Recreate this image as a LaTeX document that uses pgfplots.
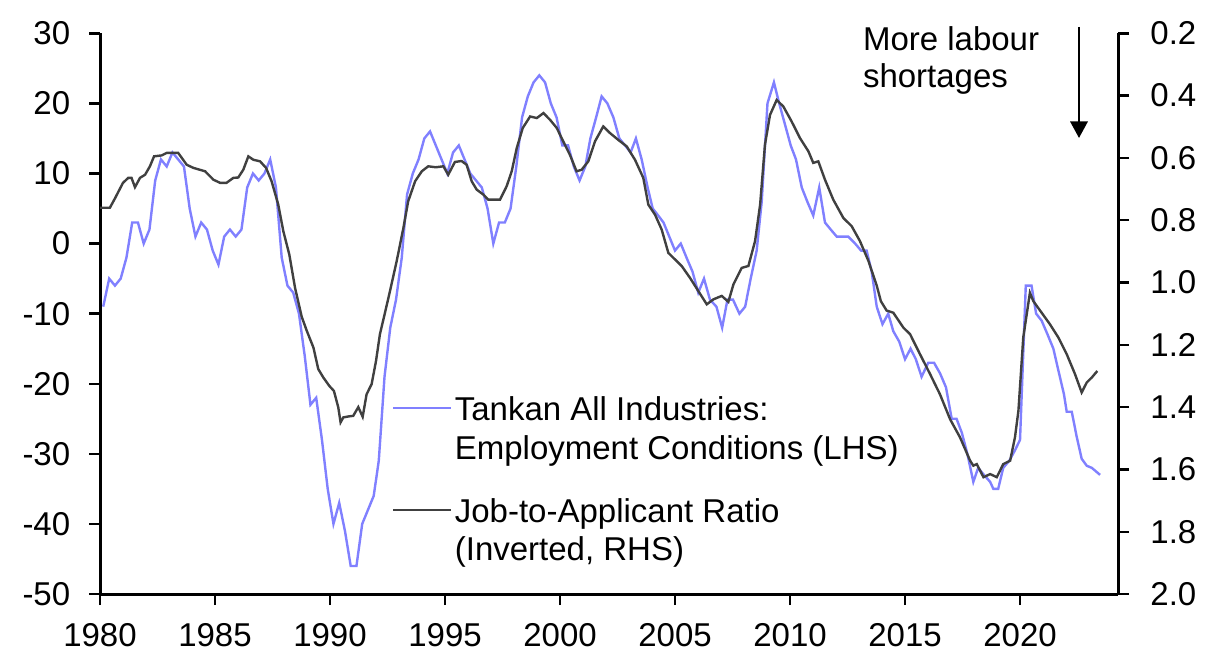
\documentclass[border=0pt]{standalone}
\usepackage{fontspec}
\setmainfont{Liberation Sans}
\usepackage{pgfplots}
\pgfplotsset{compat=1.18}
\usetikzlibrary{arrows.meta}
\definecolor{tankan}{RGB}{128,128,255}
\definecolor{jobratio}{RGB}{64,64,64}
\newcommand{\chartfont}{\fontsize{16.5}{20.5}\selectfont}
\newcommand{\legfont}{\fontsize{16.5}{18.75}\selectfont}

\begin{document}
\begin{tikzpicture}
\path[use as bounding box] (-50pt,-38pt) rectangle (554pt,297pt);
\begin{axis}[
  at={(0pt,0pt)}, anchor=south west,
  scale only axis, width=509pt, height=280.35pt,
  xmin=1980, xmax=2024.26,
  ymin=-50, ymax=30,
  axis y line*=left, axis x line*=bottom,
  xtick={1980,1985,...,2020},
  ytick={-50,-40,...,30},
  tick align=outside, major tick length=5.5pt,
  tick style={line width=1.2pt, black},
  axis line style={line width=1.5pt, black, -},
  every tick label/.append style={font=\chartfont, inner sep=0pt},
  xticklabel style={yshift=-9.15pt},
  yticklabel style={xshift=-9.2pt},
  /pgf/number format/assume math mode=true,
  /pgf/number format/1000 sep={},
  legend style={draw=none, fill=none, inner sep=0pt,
    at={(0.2865,0.3571)}, anchor=north west, font=\legfont,
    row sep=4.75pt, column sep=0pt,
    cells={anchor=base west},
    nodes={inner xsep=1.5pt, inner ysep=0pt}},
  legend image code/.code={\draw[#1] (0pt,6.15pt) -- (28.7pt,6.15pt);},
]
\addplot[tankan, line width=1.2pt] coordinates {
(1980.14,-9) (1980.40,-5) (1980.65,-6) (1980.90,-5) (1981.15,-2) (1981.40,3) (1981.65,3) (1981.90,0)
(1982.15,2) (1982.40,9) (1982.65,12) (1982.90,11) (1983.15,13) (1983.40,12) (1983.65,11) (1983.90,5)
(1984.15,1) (1984.40,3) (1984.65,2) (1984.90,-1) (1985.15,-3) (1985.40,1) (1985.65,2) (1985.90,1)
(1986.15,2) (1986.40,8) (1986.65,10) (1986.90,9) (1987.15,10) (1987.40,12) (1987.65,8) (1987.90,-2)
(1988.15,-6) (1988.40,-7) (1988.65,-10) (1988.90,-16) (1989.15,-23) (1989.40,-22) (1989.65,-28) (1989.90,-35)
(1990.15,-40) (1990.40,-37) (1990.65,-41) (1990.90,-46) (1991.15,-46) (1991.40,-40) (1991.65,-38) (1991.90,-36)
(1992.12,-31) (1992.37,-19) (1992.62,-12) (1992.87,-8) (1993.12,-2) (1993.35,7) (1993.60,10) (1993.85,12)
(1994.10,15) (1994.35,16) (1994.60,14) (1994.85,12) (1995.10,10) (1995.35,13) (1995.60,14) (1995.85,12)
(1996.10,10) (1996.35,9) (1996.60,8) (1996.85,5) (1997.10,0) (1997.35,3) (1997.60,3) (1997.85,5)
(1998.10,11) (1998.35,18) (1998.60,21) (1998.85,23) (1999.10,24) (1999.35,23) (1999.60,20) (1999.85,18)
(2000.10,14) (2000.35,14) (2000.60,11) (2000.85,9) (2001.10,11) (2001.32,15) (2001.57,18) (2001.81,21)
(2002.06,20) (2002.32,18) (2002.58,15) (2002.83,14) (2003.07,13) (2003.30,15) (2003.55,12) (2003.81,8)
(2004.03,5) (2004.27,4) (2004.50,3) (2004.75,1) (2005.00,-1) (2005.25,0) (2005.50,-2) (2005.76,-4)
(2006.01,-7) (2006.26,-5) (2006.52,-8) (2006.80,-9) (2007.05,-12) (2007.28,-8) (2007.52,-8) (2007.80,-10)
(2008.05,-9) (2008.29,-5) (2008.55,-1) (2008.77,6) (2009.02,20) (2009.30,23) (2009.53,20) (2009.78,17)
(2010.03,14) (2010.26,12) (2010.51,8) (2010.75,6) (2011.01,4) (2011.27,8) (2011.52,3) (2011.77,2)
(2012.03,1) (2012.29,1) (2012.53,1) (2012.83,0) (2013.09,-1) (2013.33,-1) (2013.55,-4) (2013.77,-9)
(2014.02,-11.5) (2014.27,-10) (2014.49,-12.5) (2014.75,-14) (2015.00,-16.5) (2015.24,-15) (2015.47,-16.5) (2015.72,-19)
(2016.01,-17) (2016.26,-17) (2016.52,-18.5) (2016.78,-20.5) (2017.03,-25) (2017.24,-25) (2017.47,-27) (2017.71,-30)
(2017.97,-34) (2018.18,-32) (2018.43,-33) (2018.70,-34) (2018.84,-35) (2019.05,-35) (2019.27,-32) (2019.53,-31)
(2019.78,-29.5) (2020.00,-28) (2020.25,-6) (2020.50,-6) (2020.70,-10) (2020.94,-11) (2021.20,-13) (2021.45,-15)
(2021.66,-18) (2021.91,-21.5) (2022.03,-24) (2022.25,-24) (2022.46,-27.5) (2022.68,-30.7) (2022.90,-31.7) (2023.12,-32)
(2023.48,-33)
};
\addlegendentry{\strut Tankan All Industries:}
\addlegendimage{empty legend}
\addlegendentry{\strut Employment Conditions (LHS)}
\addlegendimage{jobratio, line width=1.2pt}
\addlegendentry{\strut\rule{0pt}{25.2pt}Job-to-Applicant Ratio}
\addlegendimage{empty legend}
\addlegendentry{\strut (Inverted, RHS)}
\end{axis}
\begin{axis}[
  at={(0pt,0pt)}, anchor=south west,
  scale only axis, width=509pt, height=280.35pt,
  xmin=1980, xmax=2024.26,
  ymin=0.2, ymax=2.0, y dir=reverse,
  axis y line*=right, axis x line=none,
  ytick={0.2,0.4,0.6,0.8,1.0,1.2,1.4,1.6,1.8,2.0},
  tick align=outside, major tick length=5.5pt,
  tick style={line width=1.2pt, black},
  axis line style={line width=1.5pt, black, -},
  every tick label/.append style={font=\chartfont, inner sep=0pt},
  yticklabel={\hspace*{10.5pt}\pgfmathprintnumber[fixed,fixed zerofill,precision=1,assume math mode=true]{\tick}},
]
\addplot[jobratio, line width=1.2pt] coordinates {
(1980.0,0.76) (1980.43,0.76) (1980.65,0.73) (1981.0,0.68) (1981.23,0.664) (1981.37,0.664) (1981.52,0.694) (1981.74,0.664)
(1981.96,0.654) (1982.17,0.627) (1982.35,0.595) (1982.68,0.592) (1982.9,0.584) (1983.4,0.584) (1983.77,0.622) (1984.06,0.632)
(1984.57,0.643) (1984.93,0.67) (1985.22,0.68) (1985.5,0.68) (1985.8,0.664) (1986.01,0.663) (1986.23,0.638) (1986.45,0.595)
(1986.67,0.606) (1986.96,0.611) (1987.22,0.632) (1987.46,0.675) (1987.75,0.75) (1987.97,0.835) (1988.23,0.91) (1988.48,1.017)
(1988.77,1.11) (1988.99,1.155) (1989.28,1.209) (1989.49,1.278) (1989.71,1.305) (1989.97,1.332) (1990.17,1.348) (1990.36,1.401)
(1990.46,1.449) (1990.58,1.433) (1990.8,1.43) (1991.01,1.428) (1991.23,1.40) (1991.42,1.431) (1991.59,1.359) (1991.81,1.326)
(1992.0,1.252) (1992.17,1.166) (1992.39,1.097) (1992.6,1.03) (1992.9,0.931) (1993.19,0.825) (1993.4,0.739) (1993.7,0.675)
(1993.99,0.643) (1994.27,0.627) (1994.6,0.63) (1994.93,0.627) (1995.14,0.654) (1995.43,0.613) (1995.72,0.61) (1995.94,0.622)
(1996.16,0.675) (1996.38,0.702) (1996.67,0.718) (1996.88,0.734) (1997.39,0.734) (1997.68,0.691) (1997.9,0.643) (1998.12,0.568)
(1998.38,0.504) (1998.7,0.467) (1998.99,0.472) (1999.28,0.456) (1999.57,0.478) (1999.86,0.504) (2000.14,0.547) (2000.43,0.59)
(2000.72,0.643) (2000.94,0.638) (2001.23,0.611) (2001.52,0.547) (2001.88,0.499) (2002.17,0.52) (2002.53,0.542) (2002.9,0.563)
(2003.26,0.606) (2003.62,0.664) (2003.84,0.75) (2004.13,0.782) (2004.42,0.83) (2004.71,0.905) (2005.0,0.926) (2005.29,0.947)
(2005.65,0.985) (2006.01,1.027) (2006.38,1.07) (2006.67,1.054) (2007.03,1.043) (2007.32,1.062) (2007.54,1.006) (2007.9,0.953)
(2008.19,0.947) (2008.48,0.867) (2008.7,0.75) (2008.91,0.558) (2009.13,0.462) (2009.42,0.414) (2009.71,0.435) (2010.07,0.483)
(2010.43,0.536) (2010.8,0.579) (2011.01,0.616) (2011.23,0.611) (2011.52,0.67) (2011.88,0.734) (2012.32,0.793) (2012.68,0.819)
(2013.04,0.867) (2013.41,0.931) (2013.77,1.01) (2013.95,1.06) (2014.2,1.09) (2014.49,1.097) (2014.93,1.145) (2015.22,1.166)
(2015.65,1.23) (2016.09,1.294) (2016.52,1.359) (2016.96,1.439) (2017.39,1.497) (2017.83,1.572) (2017.97,1.588) (2018.12,1.583)
(2018.41,1.625) (2018.7,1.615) (2018.99,1.625) (2019.27,1.583) (2019.57,1.572) (2019.78,1.497) (2019.93,1.412) (2020.14,1.177)
(2020.43,1.033) (2020.58,1.06) (2020.94,1.097) (2021.3,1.134) (2021.67,1.177) (2022.03,1.23) (2022.39,1.294) (2022.68,1.353)
(2022.9,1.321) (2023.12,1.305) (2023.36,1.284)
};
\end{axis}
\node[anchor=base west, inner sep=0pt, align=left, font=\legfont] at (381.3pt,253pt) {More labour\\shortages};
\draw[line width=1.15pt, -{Triangle[width=8.7pt,length=8.3pt]}] (489.5pt,283.5pt) -- (489.5pt,228pt);
\end{tikzpicture}
\end{document}
